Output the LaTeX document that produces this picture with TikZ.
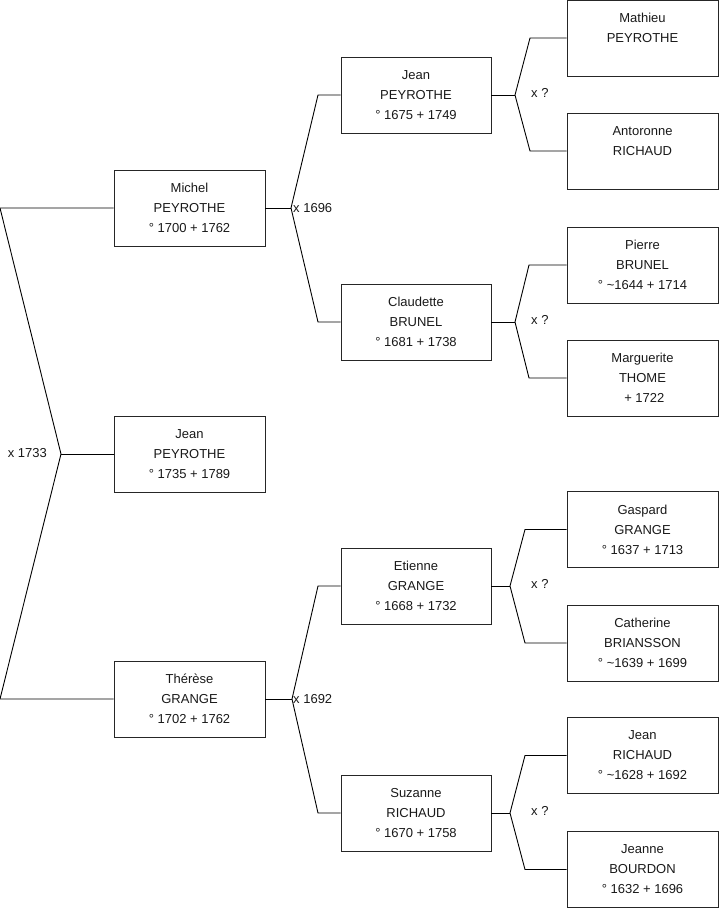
\documentclass[tikz,border=0pt]{standalone}
\usepackage{fontspec}
\setmainfont{Liberation Sans}
\begin{document}
\begin{tikzpicture}[x=1pt,y=-1pt,
  person/.style={draw=black!85,line width=0.9pt,minimum width=151pt,minimum height=76pt,inner sep=0pt,
    align=center,font=\fontsize{13}{20}\selectfont,text=black!90},
  link/.style={draw=black,line width=0.9pt},
  lbl/.style={font=\fontsize{13}{16}\selectfont,inner sep=0pt,text=black!90}]
\useasboundingbox (0,0) rectangle (719,908);
% generation 1
\node[person] (michel) at (189.5,208) {Michel\\PEYROTHE\\° 1700 + 1762};
\node[person] (jeanc) at (189.5,454) {Jean\\PEYROTHE\\° 1735 + 1789};
\node[person] (therese) at (189.5,699) {Thérèse\\GRANGE\\° 1702 + 1762};
% generation 2
\node[person,minimum width=150pt] (jean2) at (416,95) {Jean\\PEYROTHE\\° 1675 + 1749};
\node[person,minimum width=150pt] (claudette) at (416,322) {Claudette\\BRUNEL\\° 1681 + 1738};
\node[person,minimum width=150pt] (etienne) at (416,586) {Etienne\\GRANGE\\° 1668 + 1732};
\node[person,minimum width=150pt] (suzanne) at (416,813) {Suzanne\\RICHAUD\\° 1670 + 1758};
% generation 3
\node[person] (mathieu) at (642.5,38) {Mathieu\\PEYROTHE\\\phantom{° 1}};
\node[person] (antoronne) at (642.5,151) {Antoronne\\RICHAUD\\\phantom{° 1}};
\node[person] (pierre) at (642.5,265) {Pierre\\BRUNEL\\° \textasciitilde1644 + 1714};
\node[person] (marguerite) at (642.5,378) {Marguerite\\THOME\\\ + 1722};
\node[person] (gaspard) at (642.5,529.5) {Gaspard\\GRANGE\\° 1637 + 1713};
\node[person] (catherine) at (642.5,643) {Catherine\\BRIANSSON\\° \textasciitilde1639 + 1699};
\node[person] (jeanr) at (642.5,755.5) {Jean\\RICHAUD\\° \textasciitilde1628 + 1692};
\node[person] (jeanne) at (642.5,869.5) {Jeanne\\BOURDON\\° 1632 + 1696};
% fork coordinates
\coordinate (fL) at (61,454);
\coordinate (fLa) at (0,208);
\coordinate (fLb) at (0,699);
\coordinate (fM) at (291,208);
\coordinate (fMa) at (318,95);
\coordinate (fMb) at (318,322);
\coordinate (fT) at (292,699);
\coordinate (fTa) at (318,586);
\coordinate (fTb) at (318,813);
\coordinate (fJ) at (515,95);
\coordinate (fJa) at (530,38);
\coordinate (fJb) at (530,151);
\coordinate (fC) at (515,322);
\coordinate (fCa) at (529,265);
\coordinate (fCb) at (529,378);
\coordinate (fE) at (510,586);
\coordinate (fEa) at (525,529.5);
\coordinate (fEb) at (525,643);
\coordinate (fS) at (510,813);
\coordinate (fSa) at (525,755.5);
\coordinate (fSb) at (525,869.5);
% connectors
\draw[link] (jeanc.west) -- (fL);
\draw[link] (michel.west) -- (fLa) -- (fL) -- (fLb) -- (therese.west);
\draw[link] (michel.east) -- (fM);
\draw[link] (jean2.west) -- (fMa) -- (fM) -- (fMb) -- (claudette.west);
\draw[link] (therese.east) -- (fT);
\draw[link] (etienne.west) -- (fTa) -- (fT) -- (fTb) -- (suzanne.west);
\draw[link] (jean2.east) -- (fJ);
\draw[link] (mathieu.west) -- (fJa) -- (fJ) -- (fJb) -- (antoronne.west);
\draw[link] (claudette.east) -- (fC);
\draw[link] (pierre.west) -- (fCa) -- (fC) -- (fCb) -- (marguerite.west);
\draw[link] (etienne.east) -- (fE);
\draw[link] (gaspard.west) -- (fEa) -- (fE) -- (fEb) -- (catherine.west);
\draw[link] (suzanne.east) -- (fS);
\draw[link] (jeanr.west) -- (fSa) -- (fS) -- (fSb) -- (jeanne.west);
% labels
\node[lbl,anchor=east] (l1733) at (47,453) {x 1733};
\node[lbl,anchor=west] (l1696) at (293,208) {x 1696};
\node[lbl,anchor=west] (l1692) at (293,699) {x 1692};
\node[lbl,anchor=west] (lq1) at (531,93) {x ?};
\node[lbl,anchor=west] (lq2) at (531,320) {x ?};
\node[lbl,anchor=west] (lq3) at (531,584) {x ?};
\node[lbl,anchor=west] (lq4) at (531,811) {x ?};
\end{tikzpicture}
\end{document}
